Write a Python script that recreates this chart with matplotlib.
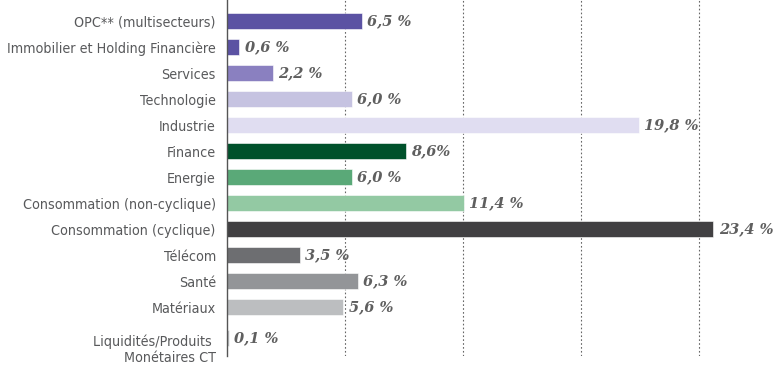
#!/usr/bin/env python3
"""
Répartition sectorielle - barres horizontales
"""

import matplotlib.pyplot as plt
import matplotlib.transforms as mtransforms
import numpy as np

secteurs = [
    'OPC** (multisecteurs)',
    'Immobilier et Holding Financière',
    'Services',
    'Technologie',
    'Industrie',
    'Finance',
    'Energie',
    'Consommation (non-cyclique)',
    'Consommation (cyclique)',
    'Télécom',
    'Santé',
    'Matériaux',
    'Liquidités/Produits \nMonétaires CT',
]
poids = [6.5, 0.6, 2.2, 6.0, 19.8, 8.6, 6.0, 11.4, 23.4, 3.5, 6.3, 5.6, 0.1]
etiquettes = ['6,5 %', '0,6 %', '2,2 %', '6,0 %', '19,8 %', '8,6%', '6,0 %',
              '11,4 %', '23,4 %', '3,5 %', '6,3 %', '5,6 %', '0,1 %']
couleurs = ['#5b52a3', '#5b52a3', '#8a80c0', '#c6c3e1', '#e0ddf1',
            '#00512b', '#5aa978', '#93c9a3', '#414042', '#6d6e71',
            '#939598', '#bcbec0', '#bcbec0']

label_font = ['DejaVu Sans']
value_font = ['DejaVu Serif']

fig = plt.figure(figsize=(7.8, 3.77), dpi=100)
ax = fig.add_axes([0.291, 0.056, 0.709, 0.944])

# positions des barres (la dernière un peu plus bas, comme sur l'original)
ypos = np.arange(len(secteurs), dtype=float)
ypos[-1] += 0.2

ax.barh(ypos, poids, height=0.62, color=couleurs, edgecolor='white', linewidth=0.4, zorder=2)

# valeurs à droite des barres
for y, v, txt in zip(ypos, poids, etiquettes):
    ax.text(v + 0.25, y, txt, ha='left', va='center', fontsize=10.5,
            family=value_font, style='italic', fontweight='bold', color='#5f5f5f', zorder=3)

# grille verticale pointillée
step = 5.67
ax.set_xticks(np.arange(1, 5) * step)
ax.xaxis.grid(True, color='#666666', linestyle=(0, (1.5, 2)), linewidth=0.8, zorder=0)
ax.tick_params(axis='x', length=0, labelbottom=False)

ax.set_xlim(0, 26.6)
ax.set_ylim(12.88, -0.81)

ax.set_yticks(ypos)
ax.set_yticklabels(secteurs, family=label_font, stretch='condensed', fontsize=10.3, color='#58595b')
ax.tick_params(axis='y', length=0, pad=8)

# décalage de l'étiquette sur deux lignes
lbl = ax.get_yticklabels()[-1]
lbl.set_transform(lbl.get_transform() + mtransforms.ScaledTranslation(0, -9 / 100, fig.dpi_scale_trans))

for s in ['top', 'right', 'bottom']:
    ax.spines[s].set_visible(False)
ax.spines['left'].set_color('#555555')
ax.spines['left'].set_linewidth(1.0)

fig.savefig('out.png', dpi=100)
